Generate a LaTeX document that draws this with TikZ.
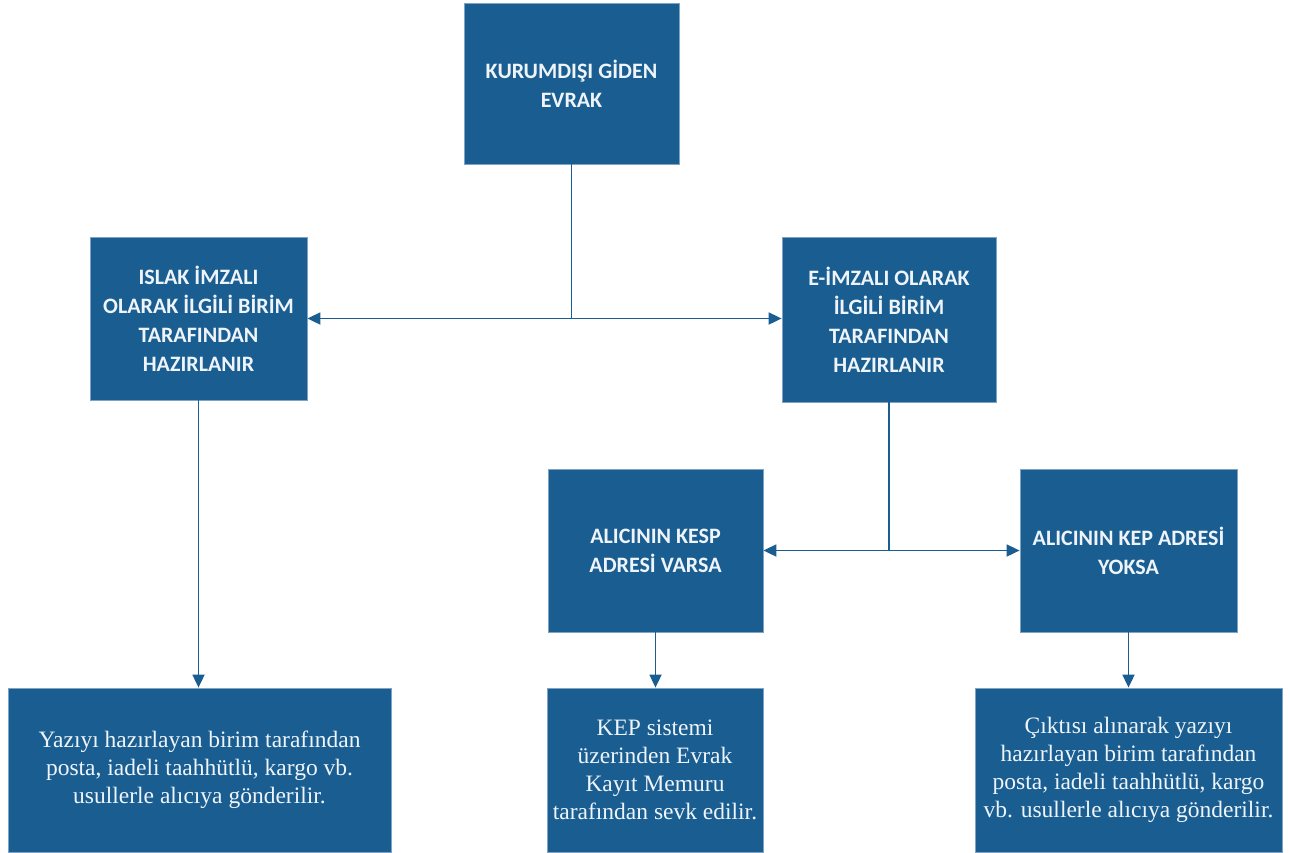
\documentclass[tikz,border=0pt]{standalone}
\usepackage{fontspec}
\setmainfont{Liberation Serif}
\newfontfamily\boxfont{Carlito}
\usetikzlibrary{arrows.meta}
\usetikzlibrary{positioning}

\definecolor{boxblue}{HTML}{1A5E91}
\definecolor{boxedge}{HTML}{7FA3C4}
\definecolor{boxtext}{HTML}{EEF4FA}

\tikzset{
  headbox/.style={draw=boxedge, line width=0.8pt, fill=boxblue, text=boxtext,
    align=center, inner sep=0pt,
    font=\boxfont\bfseries\fontsize{22}{29}\selectfont},
  notebox/.style={draw=boxedge, line width=0.8pt, fill=boxblue, text=boxtext,
    align=center, inner sep=0pt,
    font=\fontsize{23.5}{28}\selectfont},
  link/.style={draw=boxblue, line width=1.8pt},
  linkarrow/.style={link, -{Triangle[length=13pt, width=12pt]}}
}

\begin{document}
\begin{tikzpicture}[x=1pt, y=-1pt]
  \useasboundingbox (0,0) rectangle (1290,852);

  % upper boxes
  \node[headbox, minimum width=215pt, minimum height=161pt] (giden) at (571.5,83.5)
    {KURUMDIŞI GİDEN\\EVRAK};
  \node[headbox, minimum width=217pt, minimum height=163pt] (islak) at (198.5,318.5)
    {ISLAK İMZALI\\OLARAK İLGİLİ BİRİM\\TARAFINDAN\\HAZIRLANIR};
  \node[headbox, minimum width=214pt, minimum height=165pt] (eimza) at (889,319.5)
    {E-İMZALI OLARAK\\İLGİLİ BİRİM\\TARAFINDAN\\HAZIRLANIR};
  \node[headbox, minimum width=215pt, minimum height=163pt] (kesp) at (655.5,550.5)
    {ALICININ KESP\\ADRESİ VARSA};
  \node[headbox, minimum width=217pt, minimum height=163pt] (yoksa) at (1128.5,550.5)
    {ALICININ KEP ADRESİ\\YOKSA};

  % lower boxes
  \node[notebox, minimum width=383pt, minimum height=164pt] (posta) at (199.5,770)
    {Yazıyı hazırlayan birim tarafından\\posta, iadeli taahhütlü, kargo vb.\\usullerle alıcıya gönderilir.};
  \node[notebox, minimum width=216pt, minimum height=164pt] (sevk) at (655,770)
    {KEP sistemi\\üzerinden Evrak\\Kayıt Memuru\\tarafından sevk edilir.};
  \node[notebox, minimum width=307pt, minimum height=164pt] (cikti) at (1128.5,770)
    {Çıktısı alınarak yazıyı\\hazırlayan birim tarafından\\posta, iadeli taahhütlü, kargo\\vb. usullerle alıcıya gönderilir.};

  % connectors
  \draw[link] (giden.south) -- (giden.south |- islak.east) coordinate (split1);
  \draw[linkarrow] (split1) -- (islak.east);
  \draw[linkarrow] (split1) -- (eimza.west |- split1);
  \draw[linkarrow] (islak.south) -- (islak.south |- posta.north);
  \draw[link] (eimza.south) -- (eimza.south |- kesp.east) coordinate (split2);
  \draw[linkarrow] (split2) -- (kesp.east);
  \draw[linkarrow] (split2) -- (yoksa.west);
  \draw[linkarrow] (kesp.south) -- (kesp.south |- sevk.north);
  \draw[linkarrow] (yoksa.south) -- (yoksa.south |- cikti.north);
\end{tikzpicture}
\end{document}
